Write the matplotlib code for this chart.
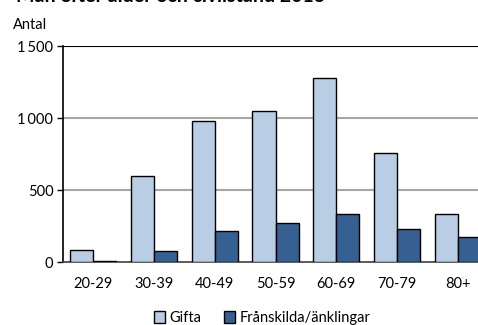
import matplotlib
matplotlib.use('Agg')
import matplotlib.pyplot as plt
import numpy as np

# Antal män per åldersgrupp och civilstånd
groups = ['20-29', '30-39', '40-49', '50-59', '60-69', '70-79', '80+']
gifta = [85, 595, 981, 1046, 1278, 759, 331]
skilda = [9, 76, 218, 273, 331, 229, 174]

plt.rcParams['font.family'] = ['Lato', 'DejaVu Sans']

fig = plt.figure(figsize=(4.78, 3.25), dpi=100)
# axes extends a bit past the right edge, as in the reference crop
ax = fig.add_axes([63 / 478, 1 - 262 / 325, 425 / 478, 216 / 325])

x = np.arange(len(groups))
w = 0.38
ax.bar(x - w / 2, gifta, w, color='#B9CDE5', edgecolor='black', linewidth=1, label='Gifta', zorder=3)
ax.bar(x + w / 2, skilda, w, color='#376092', edgecolor='black', linewidth=1,
       label='Frånskilda/änklingar', zorder=3)

ax.set_xlim(-0.5, len(groups) - 0.5)
ax.set_ylim(0, 1500)
ax.set_yticks([0, 500, 1000, 1500])
ax.set_yticklabels(['0', '500', '1\u2009000', '1\u2009500'], fontsize=10.5)
ax.set_xticks(x)
ax.set_xticklabels(groups, fontsize=10.5)
ax.tick_params(axis='x', length=0, pad=11)
ax.tick_params(axis='y', length=4, width=1, pad=3)

for v in (500, 1000):
    ax.axhline(v, color='#A6A6A6', linewidth=1.5, zorder=1)
ax.axhline(1500, color='black', linewidth=1.5, zorder=1)

ax.spines['right'].set_visible(False)
ax.spines['top'].set_visible(False)
ax.spines['left'].set_linewidth(1.2)
ax.spines['bottom'].set_color('#404040')
ax.spines['bottom'].set_linewidth(1.2)

fig.text(13 / 478, 1 - 25 / 325, 'Antal', fontsize=10.5, va='center', ha='left')
# title is cropped at the top edge in the reference
fig.text(16 / 478, 1 - 1.5 / 325, 'Män efter ålder och civilstånd 2013', fontsize=14,
         fontweight='bold', va='baseline', ha='left')

fig.legend(loc='center', bbox_to_anchor=(262 / 478, 1 - 318 / 325), ncol=2, frameon=False,
           fontsize=10.5, handlelength=0.8, handleheight=0.8, handletextpad=0.3, columnspacing=1.5)

fig.savefig('out.png', dpi=100)
